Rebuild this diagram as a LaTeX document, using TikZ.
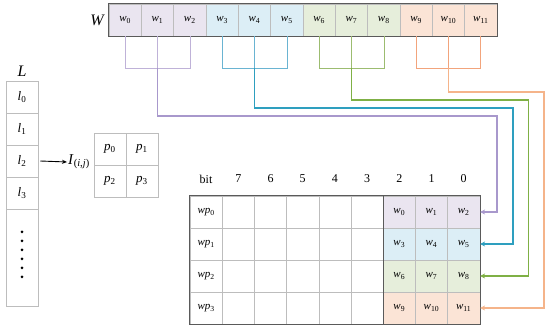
\documentclass[tikz,border=0pt]{standalone}
\usepackage{fontspec}
\setmainfont{Liberation Serif}
\usetikzlibrary{arrows.meta,calc}
\definecolor{pf}{HTML}{EAE5F0}
\definecolor{cf}{HTML}{DCEEF6}
\definecolor{gf}{HTML}{E6EEDB}
\definecolor{of}{HTML}{FBE4D6}
\definecolor{pl}{HTML}{A898CC}
\definecolor{cl}{HTML}{2E9FBF}
\definecolor{gl}{HTML}{7FB045}
\definecolor{ol}{HTML}{F5B48A}
\definecolor{pb}{HTML}{BFB2D8}
\definecolor{cb}{HTML}{6AB4D2}
\definecolor{gb}{HTML}{9CBC70}
\definecolor{ob}{HTML}{F2A47C}
\definecolor{gridgray}{HTML}{BDBDBD}
\definecolor{darkgray}{HTML}{5A5A5A}
\newcommand\vv[2]{\textit{#1}\textsubscript{#2}}
\begin{document}
\begin{tikzpicture}[x=1pt,y=-1pt,
  wcell/.style={draw=gridgray, line width=0.5pt, minimum width=32.33pt, minimum height=32pt, inner sep=0pt, font=\fontsize{11}{12}\selectfont},
  tcell/.style={draw=gridgray, line width=0.5pt, minimum width=32.2pt, minimum height=32pt, inner sep=0pt, font=\fontsize{11}{12}\selectfont},
  lcell/.style={draw=gridgray, line width=0.5pt, minimum width=32pt, minimum height=32pt, inner sep=0pt, font=\fontsize{13}{14}\selectfont},
  bitlab/.style={font=\fontsize{12}{14}\selectfont, inner sep=0pt},
  bigl/.style={font=\fontsize{16}{18}\selectfont\itshape, inner sep=0pt},
  brk/.style={line width=0.6pt},
  conn/.style={line width=1.6pt, -{Stealth[length=5pt,width=5pt]}},
]
\useasboundingbox (0,0) rectangle (550,328);
% W row
\foreach \i/\c in {0/pf,1/pf,2/pf,3/cf,4/cf,5/cf,6/gf,7/gf,8/gf,9/of,10/of,11/of}
  \node[wcell,fill=\c] (w\i) at ({109+32.33*(\i+0.5)},20) {\vv{w}{\i}};
\draw[darkgray, line width=0.8pt] (w0.north west) rectangle (w11.south east);
\node[bigl] (Wlab) at (97,20) {W};
% brackets
\foreach \a/\b/\c/\col in {0/1/2/pb,3/4/5/cb,6/7/8/gb,9/10/11/ob}{
  \draw[brk,\col] (w\a.south) -- ++(0,32) -| (w\c.south);
  \draw[brk,\col] (w\b.south) -- ++(0,32) coordinate (j\b);
}
% L column
\node[bigl] (Llab) at (22,71) {L};
\foreach \i in {0,1,2,3}
  \node[lcell] (l\i) at (22,{97+32*\i}) {\vv{l}{\i}};
\node[lcell, minimum height=97pt] (ld) at (22,257.5) {};
\foreach \k in {0,...,5}
  \fill (22,{232+9*\k}) circle (1.5pt);
% I and p grid
\node[font=\fontsize{15}{16}\selectfont, inner sep=1pt] (I) at (79,162) {\textit{I}\textsubscript{(\textit{i},\textit{j})}};
\draw[line width=0.9pt, -{Stealth[length=5pt,width=4pt]}] ($(l2.east)+(2,0)$) -- (I.west);
\node[lcell] (p0) at (110,149) {\vv{p}{0}};
\node[lcell] (p1) at (142,149) {\vv{p}{1}};
\node[lcell] (p2) at (110,181) {\vv{p}{2}};
\node[lcell] (p3) at (142,181) {\vv{p}{3}};
% table
\node[bitlab] (bit) at (206,179) {bit};
\foreach \k/\v in {1/7,2/6,3/5,4/4,5/3,6/2,7/1,8/0}
  \node[bitlab] (bh\k) at ({190+32.2*(\k+0.5)},179) {\v};
\foreach \r in {0,1,2,3}{
  \node[tcell] (t\r-0) at ({190+16.1},{212+32*\r}) {\vv{wp}{\r}};
  \foreach \k in {1,...,5}
    \node[tcell] (t\r-\k) at ({190+32.2*(\k+0.5)},{212+32*\r}) {};
}
\foreach \r/\c/\a in {0/pf/0,1/cf/3,2/gf/6,3/of/9}{
  \pgfmathtruncatemacro\aa{\a+1}
  \pgfmathtruncatemacro\ab{\a+2}
  \node[tcell,fill=\c] (t\r-6) at ({190+32.2*6.5},{212+32*\r}) {\vv{w}{\a}};
  \node[tcell,fill=\c] (t\r-7) at ({190+32.2*7.5},{212+32*\r}) {\vv{w}{\aa}};
  \node[tcell,fill=\c] (t\r-8) at ({190+32.2*8.5},{212+32*\r}) {\vv{w}{\ab}};
}
\draw[darkgray, line width=0.8pt] (t0-0.north west) rectangle (t3-8.south east);
\draw[darkgray, line width=0.8pt] (t0-6.north west) -- (t3-6.south west);
% connectors
\coordinate (k1) at (497,116);
\coordinate (k4) at (513,108);
\coordinate (k7) at (528.5,100);
\coordinate (k10) at (544,92);
\draw[conn,pl] (j1) |- (k1) |- (t0-8.east);
\draw[conn,cl] (j4) |- (k4) |- (t1-8.east);
\draw[conn,gl] (j7) |- (k7) |- (t2-8.east);
\draw[conn,ol] (j10) |- (k10) |- (t3-8.east);
\end{tikzpicture}
\end{document}
